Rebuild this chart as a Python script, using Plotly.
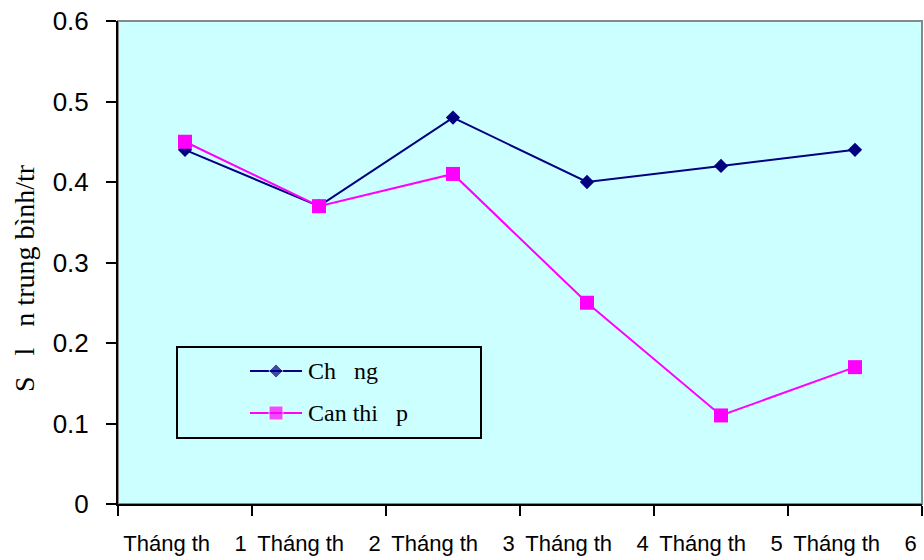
import plotly.graph_objects as go

# Monthly averages for the two groups
months = ["Tháng th\u00a0\u00a0\u00a0\u00a01", "Tháng th\u00a0\u00a0\u00a0\u00a02", "Tháng th\u00a0\u00a0\u00a0\u00a03",
          "Tháng th\u00a0\u00a0\u00a0\u00a04", "Tháng th\u00a0\u00a0\u00a0\u00a05", "Tháng th\u00a0\u00a0\u00a0\u00a06"]
chung = [0.44, 0.37, 0.48, 0.40, 0.42, 0.44]
can_thiep = [0.45, 0.37, 0.41, 0.25, 0.11, 0.17]

series_names = ["Ch\u00a0\u00a0\u00a0ng", "Can thi\u00a0\u00a0\u00a0p"]
y_title = "S\u00a0\u00a0\u00a0l\u00a0\u00a0\u00a0n trung bình/tr"
y_ticks = [0, 0.1, 0.2, 0.3, 0.4, 0.5, 0.6]

BG = "#CCFFFF"
NAVY = "#000080"
MAGENTA = "#FF00FF"
serif = "Liberation Serif, Times New Roman, serif"
sans = "Liberation Sans, Arial, sans-serif"

# plot area in pixels (for placing the legend box in paper units)
L, R, T, B = 118, 922, 21, 504


def px(x):
    return (x - L) / (R - L)


def py(y):
    return (B - y) / (B - T)


styles = [
    dict(color=NAVY, symbol="diamond", size=11),
    dict(color=MAGENTA, symbol="square", size=14),
]

fig = go.Figure()
for name, vals, st in zip(series_names, [chung, can_thiep], styles):
    fig.add_trace(go.Scatter(
        x=months, y=vals, name=name, mode="lines+markers",
        line=dict(color=st["color"], width=2),
        marker=dict(symbol=st["symbol"], size=st["size"], color=st["color"]),
        showlegend=False,
    ))

# legend samples on an overlay axis spanning the plot area (0..1 in both directions)
legend_rows = [371, 413]
for name, st, ry in zip(series_names, styles, legend_rows):
    fig.add_trace(go.Scatter(
        x=[px(250), px(276), px(302)], y=[py(ry)] * 3,
        xaxis="x2", yaxis="y2", mode="lines+markers",
        line=dict(color=st["color"], width=2),
        marker=dict(symbol=st["symbol"], size=[0, st["size"], 0], color=st["color"]),
        showlegend=False, hoverinfo="skip",
    ))

annotations = [
    dict(text=y_title, xref="paper", yref="paper",
         x=-(L - 24) / (R - L), y=py(278),
         textangle=-90, showarrow=False, xanchor="center", yanchor="middle",
         font=dict(family=serif, size=28, color="black")),
]
for name, ry in zip(series_names, legend_rows):
    annotations.append(dict(
        text=name, xref="paper", yref="paper", x=px(306), y=py(ry),
        xanchor="left", yanchor="middle", showarrow=False,
        font=dict(family=serif, size=24, color="black"),
    ))

fig.update_layout(
    width=924, height=560,
    margin=dict(l=L, r=924 - R, t=T, b=560 - B),
    paper_bgcolor="white", plot_bgcolor=BG,
    showlegend=False,
    xaxis=dict(
        type="category", range=[-0.5, 5.5], tickson="boundaries",
        showgrid=False, zeroline=False, automargin=False,
        showline=True, linecolor="black", linewidth=2,
        ticks="outside", ticklen=10, tickwidth=2, tickcolor="black",
        tickangle=0, ticklabelstandoff=19,
        tickfont=dict(family=sans, size=22, color="black"),
    ),
    yaxis=dict(
        range=[0, 0.6], tickmode="array", tickvals=y_ticks,
        ticktext=[f"{v:g}" for v in y_ticks],
        showgrid=False, zeroline=False, automargin=False,
        showline=True, linecolor="black", linewidth=2,
        ticks="outside", ticklen=10, tickwidth=2, tickcolor="black",
        ticklabelstandoff=12,
        tickfont=dict(family=sans, size=26, color="black"),
    ),
    xaxis2=dict(overlaying="x", range=[0, 1], visible=False, fixedrange=True),
    yaxis2=dict(overlaying="y", range=[0, 1], visible=False, fixedrange=True),
    shapes=[
        dict(type="rect", xref="paper", yref="paper", x0=0, x1=1, y0=0, y1=1,
             line=dict(color="#888888", width=2), layer="below"),
        dict(type="rect", xref="paper", yref="paper",
             x0=px(177), x1=px(481), y0=py(438), y1=py(347),
             line=dict(color="black", width=2), fillcolor=BG, layer="below"),
    ],
    annotations=annotations,
)

fig.write_html("out.html")
